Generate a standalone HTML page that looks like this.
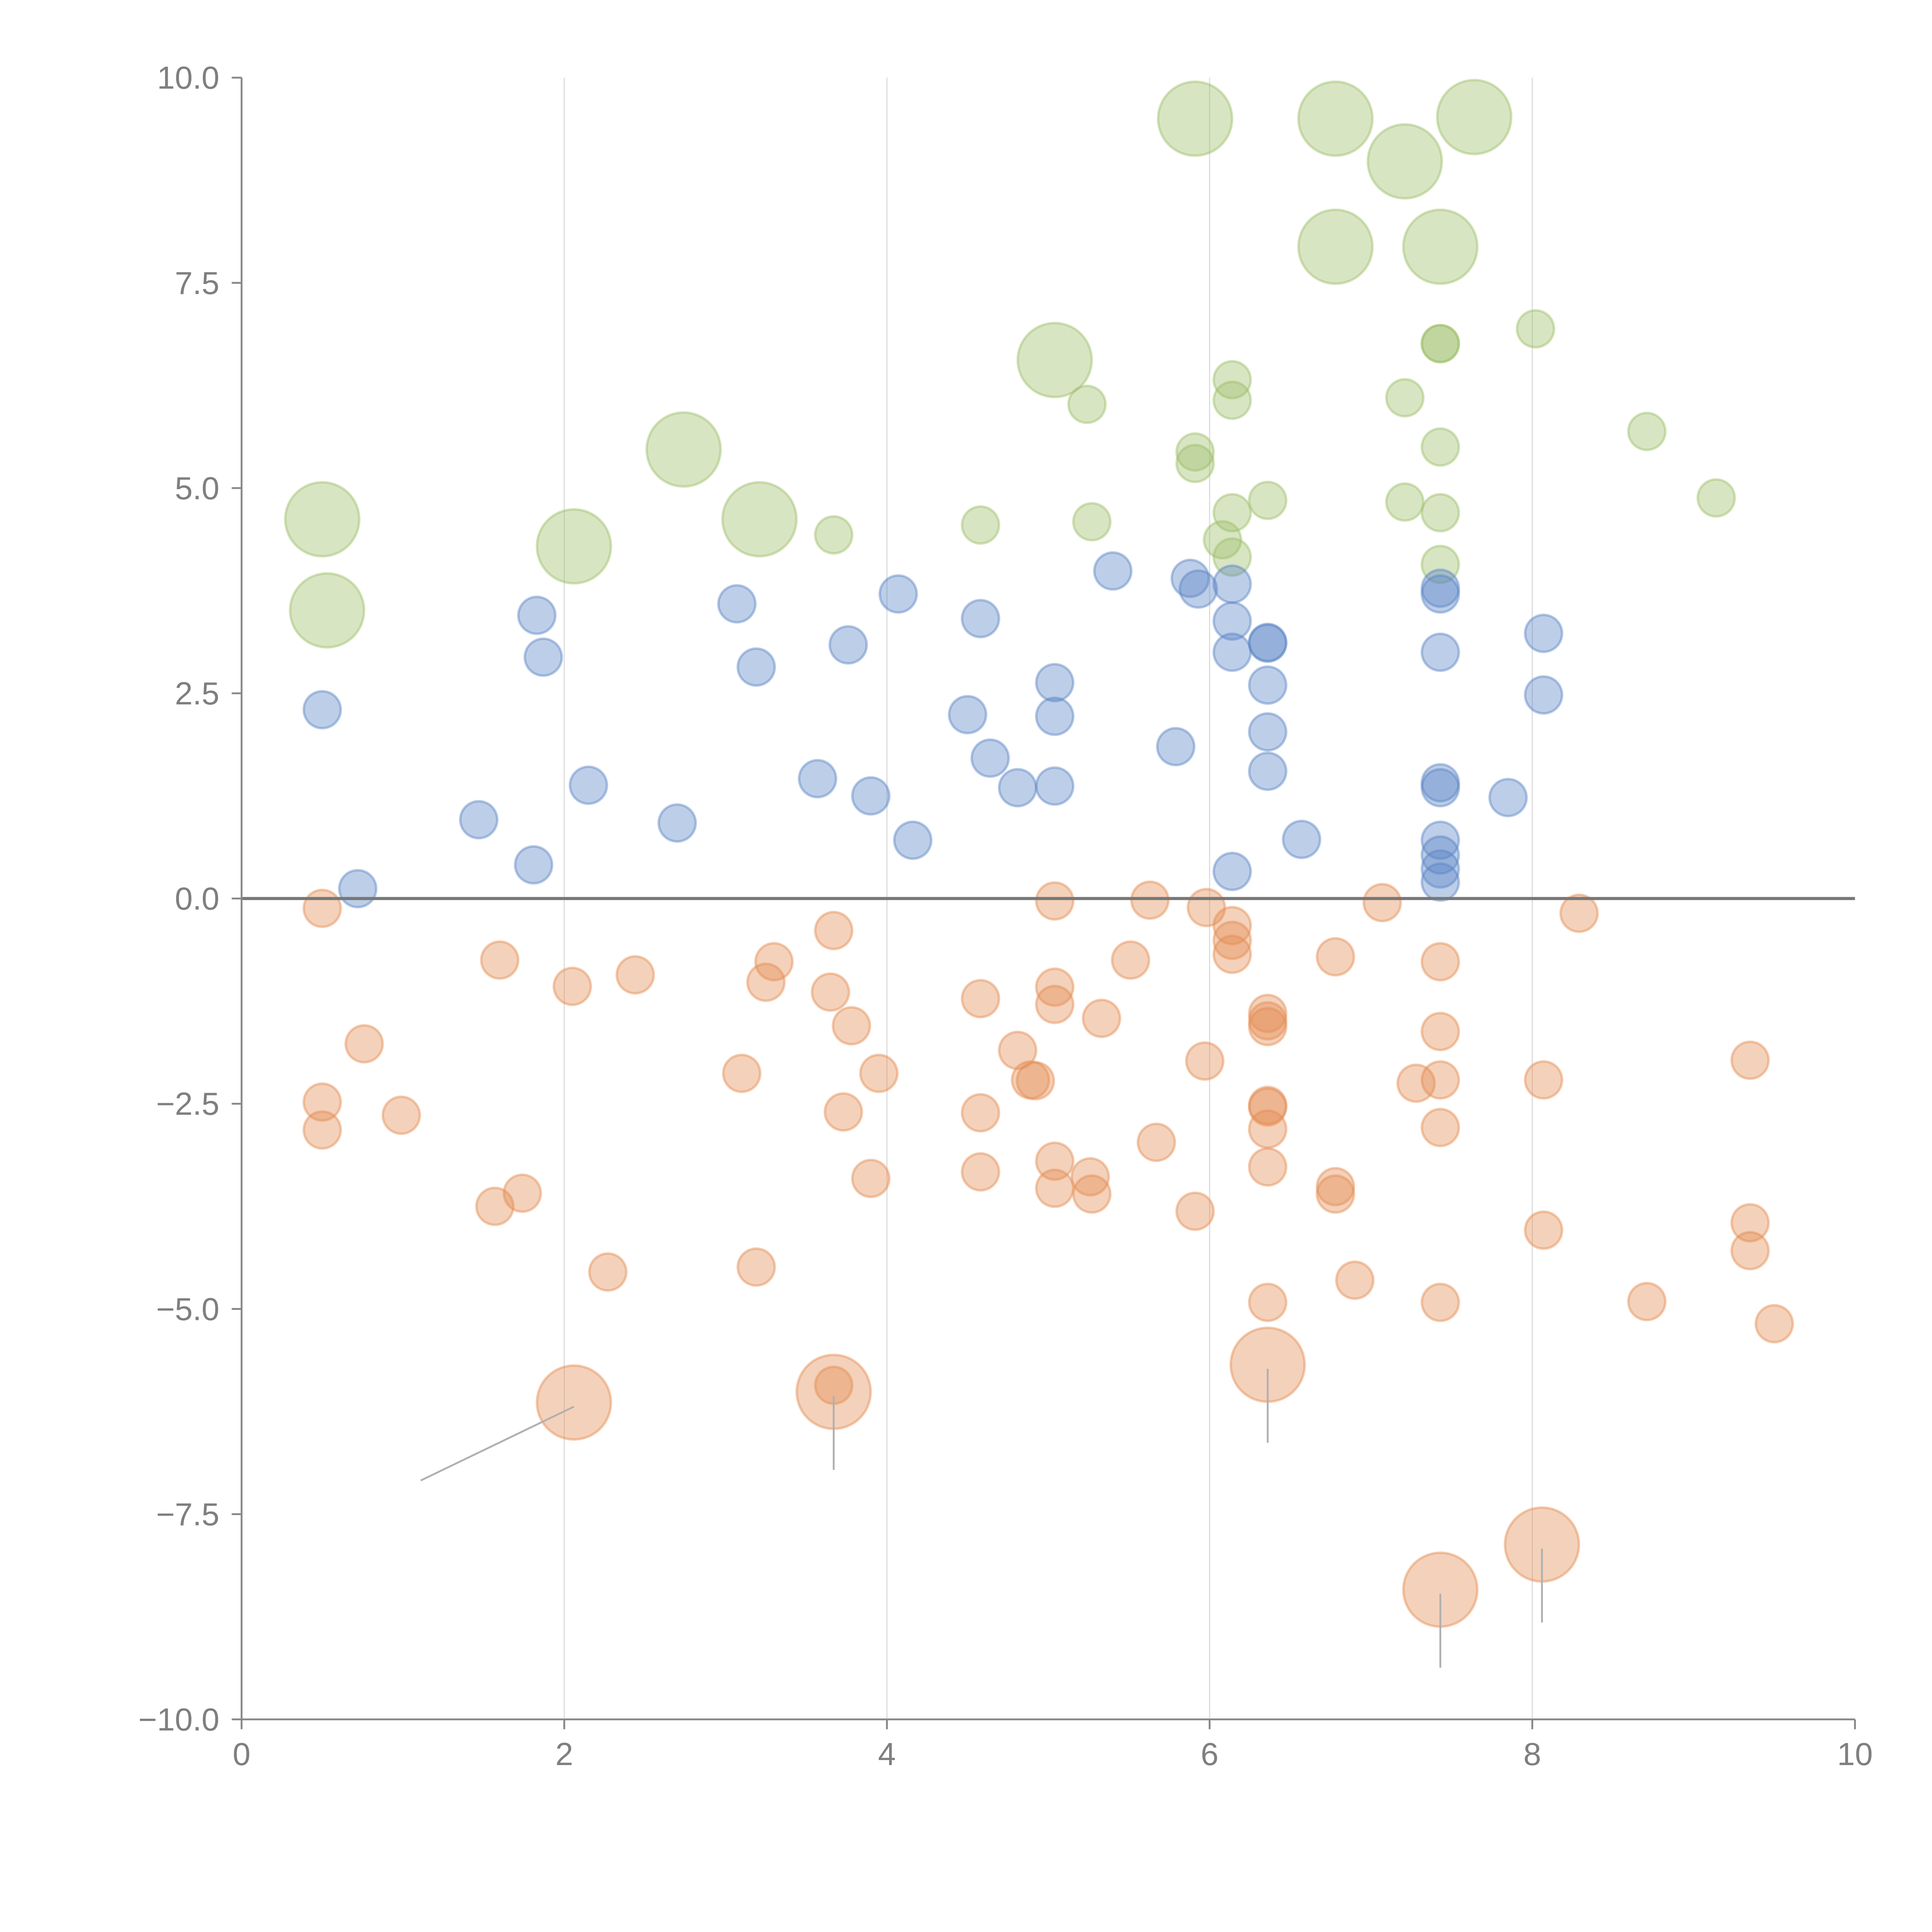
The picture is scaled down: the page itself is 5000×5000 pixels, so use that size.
<!DOCTYPE html>
<html><head><meta charset="utf-8"><style>
html,body{margin:0;padding:0;background:#fff;}
svg{display:block;}
text{font-family:"Liberation Sans",Arial,sans-serif;fill:#7f7f7f;}
</style></head>
<body>
<svg id="chart" xmlns="http://www.w3.org/2000/svg" width="5000" height="5000" viewBox="0 0 1567.5 1567.5">
<rect x="0" y="0" width="1567.5" height="1567.5" fill="#fff"/>
<g id="grid"></g>
<g id="marks"></g>
<g id="axes"></g>
</svg>
<script>
const xTicks = [0, 2, 4, 6, 8, 10];
const yTicks = [10, 7.5, 5, 2.5, 0, -2.5, -5, -7.5, -10];
const yTickLabels = ["10.0", "7.5", "5.0", "2.5", "0.0", "\u22122.5", "\u22125.0", "\u22127.5", "\u221210.0"];

const greenBigX = [0.50,0.53,2.06,2.74,3.21,5.04,5.91,6.78,7.21,6.78,7.43,7.64];
const greenBigY = [4.62,3.51,4.29,5.47,4.62,6.56,9.50,9.50,8.98,7.94,7.94,9.52];
const greenX = [3.67,4.58,5.24,5.27,6.14,6.14,5.91,5.91,6.14,6.08,6.14,6.36,7.21,7.21,7.43,7.43,7.43,7.43,7.43,8.02,8.71,9.14];
const greenY = [4.43,4.55,6.02,4.59,6.32,6.07,5.44,5.30,4.70,4.37,4.16,4.85,6.10,4.83,6.76,6.76,5.50,4.70,4.07,6.94,5.69,4.88];

const blueX = [0.50,0.72,1.47,1.81,1.83,1.87,2.15,2.70,3.07,3.19,3.57,3.76,3.90,4.07,4.16,4.50,4.58,4.64,4.81,5.04,5.04,5.04,5.40,5.79,5.88,5.93,6.14,6.14,6.14,6.14,6.36,6.36,6.36,6.36,6.36,6.57,7.43,7.43,7.43,7.43,7.43,7.43,7.43,7.43,7.43,7.85,8.07,8.07];
const blueY = [2.30,0.12,0.96,0.41,3.45,2.94,1.38,0.92,3.59,2.82,1.46,3.09,1.25,3.71,0.71,2.24,3.41,1.71,1.35,2.63,2.22,1.37,3.99,1.85,3.90,3.77,3.83,3.38,3.00,0.33,3.12,3.11,2.60,2.03,1.55,0.72,3.78,3.71,3.00,1.41,1.35,0.71,0.53,0.36,0.20,1.23,3.23,2.48];

const orangeX = [0.50,0.50,0.50,0.76,0.99,1.57,1.60,1.74,2.05,2.27,2.44,3.10,3.19,3.25,3.30,3.65,3.67,3.73,3.78,3.90,3.95,4.58,4.58,4.58,4.81,4.89,4.92,5.04,5.04,5.04,5.04,5.04,5.26,5.27,5.33,5.51,5.63,5.67,5.91,5.97,5.98,6.14,6.14,6.14,6.36,6.36,6.36,6.36,6.36,6.36,6.36,6.36,6.78,6.78,6.78,6.90,7.07,7.28,7.43,7.43,7.43,7.43,7.43,8.07,8.07,8.29,8.71,9.35,9.35,9.35,9.50,3.67];
const orangeY = [-0.12,-2.48,-2.82,-1.77,-2.64,-3.75,-0.75,-3.59,-1.07,-4.55,-0.93,-2.13,-4.49,-1.02,-0.77,-1.14,-0.39,-2.60,-1.55,-3.41,-2.13,-1.22,-2.61,-3.33,-1.85,-2.21,-2.22,-0.03,-1.08,-1.29,-3.20,-3.53,-3.39,-3.60,-1.46,-0.75,-0.02,-2.97,-3.81,-1.98,-0.11,-0.33,-0.51,-0.68,-1.40,-1.49,-1.56,-2.52,-2.54,-2.81,-3.27,-4.92,-0.71,-3.51,-3.60,-4.65,-0.05,-2.25,-0.77,-1.62,-2.21,-2.79,-4.92,-2.21,-4.04,-0.18,-4.91,-1.97,-3.95,-4.29,-5.18,-5.93];
const orangeBigX = [2.06,3.67,6.36,7.43,8.06];
const orangeBigY = [-6.14,-6.01,-5.68,-8.42,-7.87];
const leaderDX = [-0.95,0,0,0,0];
const leaderDY = [-0.95,-0.95,-0.95,-0.95,-0.95];

const X0 = 196, X1 = 1505, Y0 = 1395, Y1 = 63;
function sx(v){ return X0 + (v - 0) / 10 * (X1 - X0); }
function sy(v){ return Y0 - (v + 10) / 20 * (Y0 - Y1); }
const NS = "http://www.w3.org/2000/svg";
function mk(tag, parent, attrs){
  const e = document.createElementNS(NS, tag);
  for (const k in attrs) e.setAttribute(k, attrs[k]);
  parent.appendChild(e);
  return e;
}
const grid = document.getElementById('grid');
const marks = document.getElementById('marks');
const axes = document.getElementById('axes');

[2,4,6,8].forEach(v => {
  const l = mk('line', grid, {x1:sx(v), x2:sx(v), y1:Y1, y2:Y0, stroke:'#dedede', 'stroke-width':1});
  
  
});

function bubbles(xs, ys, r, color, name){
  for (let i = 0; i < xs.length; i++){
    const c = mk('circle', marks, {cx:sx(xs[i]), cy:sy(ys[i]), r:r, fill:color, 'fill-opacity':0.4, stroke:color, 'stroke-opacity':0.45, 'stroke-width':2});
    
    
  }
}
bubbles(greenBigX, greenBigY, 30, '#9dbf68', 'green-bubble-large');
bubbles(greenX, greenY, 15, '#9dbf68', 'green-bubble');
bubbles(blueX, blueY, 15, '#5a85c6', 'blue-bubble');
bubbles(orangeX, orangeY, 15, '#e48c52', 'orange-bubble');
bubbles(orangeBigX, orangeBigY, 30, '#e48c52', 'orange-bubble-large');

for (let i = 0; i < orangeBigX.length; i++){
  const l = mk('line', marks, {x1:sx(orangeBigX[i]), y1:sy(orangeBigY[i]-0.05), x2:sx(orangeBigX[i]+leaderDX[i]), y2:sy(orangeBigY[i]+leaderDY[i]), stroke:'#b0b0b0', 'stroke-width':1.5});
  
  
}

const zl = mk('line', axes, {x1:X0, x2:X1, y1:sy(0), y2:sy(0), stroke:'#777', 'stroke-width':2.5});



const ya = mk('line', axes, {x1:X0, x2:X0, y1:Y1, y2:Y0, stroke:'#888', 'stroke-width':1.5});


const xa = mk('line', axes, {x1:X0, x2:X1, y1:Y0, y2:Y0, stroke:'#888', 'stroke-width':1.5});



yTicks.forEach((v, i) => {
  const t = mk('line', axes, {x1:X0-8, x2:X0, y1:sy(v), y2:sy(v), stroke:'#888', 'stroke-width':1.5});
  
  
  const tx = mk('text', axes, {x:X0-18, y:sy(v)+9, 'text-anchor':'end', 'font-size':26});
  tx.textContent = yTickLabels[i];
  
  
});
xTicks.forEach(v => {
  const t = mk('line', axes, {x1:sx(v), x2:sx(v), y1:Y0, y2:Y0+8, stroke:'#888', 'stroke-width':1.5});
  
  
  const tx = mk('text', axes, {x:sx(v), y:Y0+37, 'text-anchor':'middle', 'font-size':26});
  tx.textContent = String(v);
  
  
});
</script>
</body></html>
